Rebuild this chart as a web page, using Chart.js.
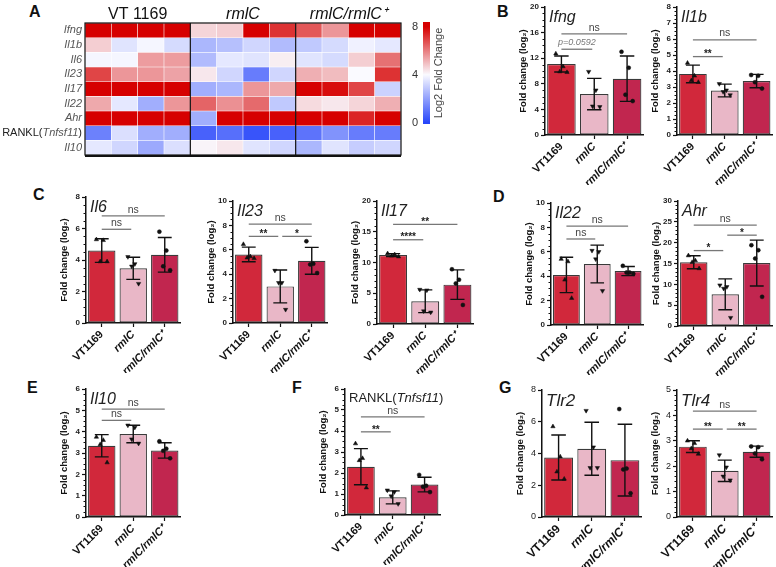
<!DOCTYPE html>
<html>
<head>
<meta charset="utf-8">
<script src="https://cdn.jsdelivr.net/npm/chart.js@4.4.1/dist/chart.umd.min.js"></script>
<style>
  html, body { margin: 0; padding: 0; background: #fff; }
  #fig { position: relative; width: 776px; height: 567px; overflow: hidden; font-family: "Liberation Sans", Arial, sans-serif; }
  #fig canvas { position: absolute; }
  .panel { position: absolute; font-size: 16px; line-height: 16px; font-weight: bold; color: #111; }
</style>
</head>
<body>
<div id="fig">
  <div class="panel" style="left:29px;top:4px">A</div>
  <div class="panel" style="left:497px;top:4px">B</div>
  <div class="panel" style="left:33px;top:187px">C</div>
  <div class="panel" style="left:493px;top:189px">D</div>
  <div class="panel" style="left:27px;top:380px">E</div>
  <div class="panel" style="left:292px;top:380px">F</div>
  <div class="panel" style="left:499px;top:380px">G</div>

  <canvas id="heat"></canvas>
  <canvas id="cbar"></canvas>
  <canvas id="c-ifng"></canvas>
  <canvas id="c-il1b"></canvas>
  <canvas id="c-il6"></canvas>
  <canvas id="c-il23"></canvas>
  <canvas id="c-il17"></canvas>
  <canvas id="c-il22"></canvas>
  <canvas id="c-ahr"></canvas>
  <canvas id="c-il10"></canvas>
  <canvas id="c-rankl"></canvas>
  <canvas id="c-tlr2"></canvas>
  <canvas id="c-tlr4"></canvas>
</div>

<script>
// ---- data ----
const GROUPS = ['VT1169', 'rmlC', 'rmlC/rmlC⁺'];
const HEAT_GROUPS = ['VT 1169', 'rmlC', 'rmlC/rmlC⁺'];
const HEAT_SAMPLES = ['VT-1', 'VT-2', 'VT-3', 'VT-4', 'rmlC-1', 'rmlC-2', 'rmlC-3', 'rmlC-4', 'comp-1', 'comp-2', 'comp-3', 'comp-4'];
const HEAT_ROWS = ['Ifng', 'Il1b', 'Il6', 'Il23', 'Il17', 'Il22', 'Ahr', 'RANKL(Tnfsf11)', 'Il10'];
const COLORBAR_TICKS = [0, 4, 8];

// log2 fold change per sample (heatmap)
const HEAT_IFNG  = [8.5, 8.5, 8.5, 8.5, 4.6, 4.7, 8.5, 7.2, 6.6, 5.6, 8.5, 8.5];
const HEAT_IL1B  = [4.7, 3.5, 3.9, 3.3, 2.5, 2.7, 3.2, 2.6, 2.9, 3.3, 3.8, 3.6];
const HEAT_IL6   = [3.9, 3.9, 5.5, 5.5, 2.6, 3.6, 3.5, 4.2, 3.5, 3.3, 4.7, 6.2];
const HEAT_IL23  = [6.9, 5.6, 5.6, 5.4, 4.3, 3.2, 1.2, 3.2, 5.2, 5.0, 4.0, 7.2];
const HEAT_IL17  = [8.5, 8.5, 8.5, 8.5, 2.3, 2.5, 5.6, 5.3, 8.5, 7.8, 6.9, 3.1];
const HEAT_IL22  = [5.3, 3.6, 2.3, 5.6, 6.4, 5.7, 6.3, 2.9, 4.5, 4.3, 4.6, 5.2];
const HEAT_AHR   = [8.5, 8.5, 8.5, 8.5, 2.3, 8.5, 8.5, 8.5, 8.5, 8.5, 7.4, 8.5];
const HEAT_RANKL = [1.3, 3.4, 2.3, 2.3, 0.6, 0.9, 0.3, 0.6, 1.0, 1.7, 1.2, 1.2];
const HEAT_IL10  = [3.6, 3.2, 2.2, 3.4, 4.1, 4.3, 3.5, 3.2, 2.5, 3.5, 3.0, 3.2];

// bar charts: mean, SD, replicates, significance [from, to, height, label]
const IFNG_MEAN = [11.1, 6.4, 8.8];
const IFNG_SD = [1.25, 2.45, 3.55];
const IFNG_PTS = [[12.7, 10.7, 9.9, 9.8], [9.9, 7.0, 4.5, 4.4], [13.0, 10.5, 6.3, 5.3]];
const IFNG_SIG = [[0, 2, 15.8, 'ns'], [0, 1, 13.4, 'p=0.0592']];

const IL1B_MEAN = [3.82, 2.78, 3.37];
const IL1B_SD = [0.55, 0.4, 0.42];
const IL1B_PTS = [[4.5, 3.7, 3.4, 3.3], [3.2, 2.8, 2.7, 2.5], [3.75, 3.7, 3.3, 2.9]];
const IL1B_SIG = [[0, 2, 5.95, 'ns'], [0, 1, 4.9, '**']];

const IL6_MEAN = [4.6, 3.47, 4.33];
const IL6_SD = [0.75, 0.7, 1.1];
const IL6_PTS = [[5.3, 5.25, 3.9, 3.9], [4.2, 3.75, 3.6, 2.5], [5.8, 4.6, 3.6, 3.35]];
const IL6_SIG = [[0, 2, 6.8, 'ns'], [0, 1, 5.95, 'ns']];

const IL23_MEAN = [5.62, 3.0, 5.1];
const IL23_SD = [0.6, 1.35, 1.1];
const IL23_PTS = [[6.45, 5.45, 5.35, 5.3], [4.3, 3.3, 3.3, 1.1], [6.7, 4.85, 4.8, 4.1]];
const IL23_SIG = [[0, 2, 8.1, 'ns'], [0, 1, 7.1, '**'], [1, 2, 7.1, '*']];

const IL17_MEAN = [11.2, 3.7, 6.4];
const IL17_SD = [0.25, 1.85, 2.4];
const IL17_PTS = [[11.45, 11.3, 11.1, 10.95], [5.6, 5.5, 2.1, 1.9], [8.9, 7.2, 6.6, 3.1]];
const IL17_SIG = [[0, 2, 16.2, '**'], [0, 1, 13.7, '****']];

const IL22_MEAN = [4.1, 5.0, 4.42];
const IL22_SD = [1.45, 1.55, 0.37];
const IL22_PTS = [[5.4, 5.2, 3.7, 2.2], [6.1, 6.0, 5.4, 2.8], [4.85, 4.3, 4.3, 4.2]];
const IL22_SIG = [[0, 2, 8.1, 'ns'], [0, 1, 7.05, 'ns']];

const AHR_MEAN = [15.3, 7.6, 15.1];
const AHR_SD = [1.55, 3.7, 5.5];
const AHR_PTS = [[16.9, 15.7, 15.3, 13.8], [9.8, 9.4, 9.0, 2.0], [19.4, 18.2, 16.2, 7.0]];
const AHR_SIG = [[0, 2, 24.2, 'ns'], [0, 1, 18.1, '*'], [1, 2, 21.8, '*']];

const IL10_MEAN = [3.34, 3.89, 3.12];
const IL10_SD = [0.52, 0.41, 0.36];
const IL10_PTS = [[3.75, 3.6, 3.4, 2.55], [4.3, 4.2, 3.65, 3.45], [3.55, 3.2, 3.1, 2.75]];
const IL10_SIG = [[0, 2, 5.06, 'ns'], [0, 1, 4.53, 'ns']];

const RANKL_MEAN = [2.3, 0.84, 1.45];
const RANKL_SD = [0.86, 0.31, 0.35];
const RANKL_PTS = [[3.4, 2.7, 2.6, 1.3], [1.18, 1.1, 0.9, 0.53], [1.91, 1.39, 1.35, 1.09]];
const RANKL_SIG = [[0, 2, 4.67, 'ns'], [0, 1, 3.96, '**']];

const TLR2_MEAN = [3.75, 4.3, 3.58];
const TLR2_SD = [1.42, 1.67, 2.26];
const TLR2_PTS = [[5.7, 3.8, 2.85, 2.4], [6.7, 4.4, 3.1, 3.1], [6.8, 3.05, 3.0, 1.5]];
const TLR2_SIG = [];

const TLR4_MEAN = [2.77, 1.82, 2.57];
const TLR4_SD = [0.23, 0.42, 0.22];
const TLR4_PTS = [[3.0, 2.9, 2.7, 2.48], [2.44, 1.96, 1.6, 1.45], [2.78, 2.75, 2.5, 2.27]];
const TLR4_SIG = [[0, 2, 4.17, 'ns'], [0, 1, 3.46, '**'], [1, 2, 3.46, '**']];

// ---- style ----
const FONT = '"Liberation Sans", Arial, sans-serif';
Chart.defaults.font.family = FONT;
Chart.defaults.color = '#111';
Chart.defaults.animation = false;
Chart.defaults.plugins.legend.display = false;
Chart.defaults.plugins.tooltip.enabled = false;

const BAR_COLORS = ['#d1283b', '#e9b7c7', '#c1264f'];
const POINT_STYLES = ['triangle', 'triangle', 'circle'];
const POINT_ROT = [0, 180, 0];
const JITTER = [-0.17, 0.05, -0.05, 0.17];

function mix(a, b, t) {
    return a.map((v, i) => Math.round(v + (b[i] - v) * t));
}
function heatColor(v) {
    const lo = [40, 70, 250], mid = [250, 250, 255], hi = [214, 0, 0];
    const t = Math.max(0, Math.min(8, v));
    const c = t < 4 ? mix(lo, mid, t / 4) : mix(mid, hi, (t - 4) / 4);
    return `rgb(${c[0]},${c[1]},${c[2]})`;
}

function place(cv, left, top, w, h) {
    cv.width = w; cv.height = h;
    cv.style.left = left + 'px'; cv.style.top = top + 'px';
    cv.style.width = w + 'px'; cv.style.height = h + 'px';
}

// ---- heatmap ----
const HEAT = [HEAT_IFNG, HEAT_IL1B, HEAT_IL6, HEAT_IL23, HEAT_IL17, HEAT_IL22, HEAT_AHR, HEAT_RANKL, HEAT_IL10];

const heatDecor = {
    id: 'heatDecor',
    afterDraw(chart) {
        const { ctx, chartArea: a, scales: { x, y } } = chart;
        ctx.save();
        // group separators and frame
        ctx.strokeStyle = '#111';
        ctx.lineWidth = 1.2;
        ctx.strokeRect(a.left, a.top, a.right - a.left, a.bottom - a.top);
        [4, 8].forEach(c => {
            const px = (x.getPixelForValue(c - 1) + x.getPixelForValue(c)) / 2;
            ctx.beginPath(); ctx.moveTo(px, a.top); ctx.lineTo(px, a.bottom); ctx.stroke();
        });
        ctx.lineWidth = 2.2;
        ctx.beginPath(); ctx.moveTo(a.left, a.bottom + 1); ctx.lineTo(a.right, a.bottom + 1); ctx.stroke();

        // column group headers
        ctx.fillStyle = '#111';
        ctx.textAlign = 'center';
        ctx.textBaseline = 'alphabetic';
        HEAT_GROUPS.forEach((g, i) => {
            const cx = (x.getPixelForValue(i * 4) + x.getPixelForValue(i * 4 + 3)) / 2;
            ctx.font = (i === 0 ? '' : 'italic ') + '16px ' + FONT;
            ctx.fillText(g, cx, 19);
        });

        // row labels
        ctx.textAlign = 'right';
        ctx.textBaseline = 'middle';
        HEAT_ROWS.forEach((r, i) => {
            const cy = y.getPixelForValue(i + 0.5);
            const rx = a.left - 3;
            if (r.startsWith('RANKL')) {
                ctx.fillStyle = '#222';
                ctx.font = '11px ' + FONT;
                ctx.fillText(')', rx, cy);
                let w = ctx.measureText(')').width;
                ctx.font = 'italic 11px ' + FONT;
                ctx.fillStyle = '#555';
                ctx.fillText('Tnfsf11', rx - w, cy);
                w += ctx.measureText('Tnfsf11').width;
                ctx.font = '11px ' + FONT;
                ctx.fillStyle = '#222';
                ctx.fillText('RANKL(', rx - w, cy);
            } else {
                ctx.fillStyle = '#555';
                ctx.font = 'italic 11px ' + FONT;
                ctx.fillText(r, rx, cy);
            }
        });
        ctx.restore();
    }
};

const heatCv = document.getElementById('heat');
place(heatCv, 0, 0, 405, 162);
new Chart(heatCv, {
    type: 'bar',
    data: {
        labels: HEAT_SAMPLES,
        datasets: HEAT_ROWS.map((r, i) => ({
            label: r,
            data: HEAT_SAMPLES.map(() => 1),
            backgroundColor: ctx => heatColor(HEAT[i][ctx.dataIndex]),
            borderColor: 'rgba(255,255,255,0.55)',
            borderWidth: 0.6,
            borderSkipped: false,
            barPercentage: 1,
            categoryPercentage: 1,
        })),
    },
    options: {
        responsive: false,
        layout: { padding: { left: 85, top: 23, right: 4, bottom: 7 } },
        scales: {
            x: { stacked: true, display: false },
            y: { stacked: true, display: false, min: 0, max: HEAT_ROWS.length, reverse: true },
        },
    },
    plugins: [heatDecor],
});

// ---- colour bar ----
const cbarText = {
    id: 'cbarText',
    afterDraw(chart) {
        const { ctx, chartArea: a, scales: { y } } = chart;
        ctx.save();
        ctx.fillStyle = '#333';
        ctx.font = '11px ' + FONT;
        ctx.textAlign = 'right';
        ctx.textBaseline = 'middle';
        COLORBAR_TICKS.forEach(v => ctx.fillText(String(v), a.left - 5, y.getPixelForValue(v)));
        ctx.translate(a.right + 9, (a.top + a.bottom) / 2);
        ctx.rotate(-Math.PI / 2);
        ctx.fillStyle = '#444';
        ctx.textAlign = 'center';
        ctx.fillText('Log2 Fold Change', 0, 0);
        ctx.restore();
    }
};
const cbarCv = document.getElementById('cbar');
place(cbarCv, 406, 16, 42, 114);
new Chart(cbarCv, {
    type: 'bar',
    data: {
        labels: [''],
        datasets: [{
            data: [[-0.12, 8.4]],
            borderWidth: 0,
            barPercentage: 1,
            categoryPercentage: 1,
            backgroundColor: ctx => {
                const ch = ctx.chart;
                if (!ch.chartArea) return '#fff';
                const y = ch.scales.y;
                const g = ch.ctx.createLinearGradient(0, y.getPixelForValue(0), 0, y.getPixelForValue(8));
                g.addColorStop(0, heatColor(0));
                g.addColorStop(0.5, heatColor(4));
                g.addColorStop(1, heatColor(8));
                return g;
            },
        }],
    },
    options: {
        responsive: false,
        layout: { padding: { left: 17, top: 6, bottom: 6, right: 18 } },
        scales: {
            x: { display: false },
            y: { display: false, min: -0.12, max: 8.4 },
        },
    },
    plugins: [cbarText],
});

// ---- bar charts ----
function barChart(id, box, g) {
    const YW = 27, XH = 50, PT = 8, PR = 3;
    const cv = document.getElementById(id);
    place(cv, box.axisX - YW, box.top - PT, YW + (box.right - box.axisX) + PR, PT + (box.bottom - box.top) + XH);

    const decor = {
        id: 'decor',
        afterDatasetDraw(chart, args) {
            if (args.meta.type !== 'bar') return;
            const { ctx, scales: { x, y } } = chart;
            ctx.save();
            ctx.strokeStyle = '#111';
            ctx.lineWidth = 1.4;
            const cap = (x.getPixelForValue(1) - x.getPixelForValue(0)) * 0.22;
            g.mean.forEach((m, i) => {
                const cx = x.getPixelForValue(i);
                const y1 = y.getPixelForValue(m + g.sd[i]);
                const y0 = y.getPixelForValue(Math.max(0, m - g.sd[i]));
                ctx.beginPath();
                ctx.moveTo(cx, y0); ctx.lineTo(cx, y1);
                ctx.moveTo(cx - cap, y1); ctx.lineTo(cx + cap, y1);
                ctx.moveTo(cx - cap, y0); ctx.lineTo(cx + cap, y0);
                ctx.stroke();
            });
            ctx.restore();
        },
        afterDraw(chart) {
            const { ctx, chartArea: a, scales: { x, y } } = chart;
            ctx.save();
            // minor ticks on the y axis
            if (g.minor) {
                ctx.strokeStyle = '#111';
                ctx.lineWidth = 1;
                const sub = g.step / g.minor;
                for (let v = 0; v <= g.max + 1e-9; v += sub) {
                    if (Math.abs(v / g.step - Math.round(v / g.step)) < 1e-6) continue;
                    const py = Math.round(y.getPixelForValue(v)) + 0.5;
                    ctx.beginPath(); ctx.moveTo(a.left - 2.5, py); ctx.lineTo(a.left, py); ctx.stroke();
                }
            }
            // significance brackets
            g.sig.forEach(([f, t, v, label]) => {
                const x1 = x.getPixelForValue(f) + (f > 0 ? 2 : 0);
                const x2 = x.getPixelForValue(t) - (t < GROUPS.length - 1 ? 2 : 0);
                const py = y.getPixelForValue(v);
                ctx.strokeStyle = '#777';
                ctx.lineWidth = 1.3;
                ctx.beginPath(); ctx.moveTo(x1, py); ctx.lineTo(x2, py); ctx.stroke();
                ctx.textAlign = 'center';
                ctx.textBaseline = 'bottom';
                let dy = -1;
                if (label === 'ns') { ctx.font = '10.5px ' + FONT; ctx.fillStyle = '#444'; }
                else if (label.startsWith('p')) { ctx.font = 'italic 9px ' + FONT; ctx.fillStyle = '#777'; dy = -2; }
                else { ctx.font = 'bold 10px ' + FONT; ctx.fillStyle = '#222'; dy = 3; }
                ctx.fillText(label, (x1 + x2) / 2, py + dy);
            });
            // gene name inside the plot
            ctx.fillStyle = '#222';
            ctx.textAlign = 'left';
            ctx.textBaseline = 'top';
            let tx = a.left + 4;
            g.title.forEach(([txt, it]) => {
                ctx.font = (it ? 'italic ' : '') + g.titleSize + 'px ' + FONT;
                ctx.fillText(txt, tx, a.top + 3);
                tx += ctx.measureText(txt).width;
            });
            ctx.restore();
        }
    };

    const scatter = g.pts.map((arr, i) => ({
        type: 'scatter',
        order: 0,
        data: arr.map((v, k) => ({ x: i + JITTER[k], y: v })),
        pointStyle: POINT_STYLES[i],
        rotation: POINT_ROT[i],
        pointRadius: i === 2 ? 2 : 2.5,
        backgroundColor: '#111',
        borderColor: '#111',
        borderWidth: 0.5,
    }));

    return new Chart(cv, {
        type: 'bar',
        data: {
            datasets: [{
                type: 'bar',
                order: 1,
                grouped: false,
                data: g.mean.map((m, i) => ({ x: i, y: m })),
                backgroundColor: BAR_COLORS,
                borderColor: '#3a3a3a',
                borderWidth: 1.2,
                borderSkipped: false,
                barPercentage: 0.87,
                categoryPercentage: 1,
            }, ...scatter],
        },
        options: {
            responsive: false,
            layout: { padding: { top: PT, right: PR } },
            scales: {
                x: {
                    type: 'linear',
                    offset: false,
                    min: -0.5, max: GROUPS.length - 0.5,
                    afterBuildTicks: s => { s.ticks = GROUPS.map((_, i) => ({ value: i })); },
                    grid: { display: true, offset: false, drawOnChartArea: false, tickLength: 4, color: '#111', tickWidth: 1.2 },
                    border: { display: true, color: '#111', width: 1.5 },
                    ticks: {
                        minRotation: 45, maxRotation: 45, padding: 1, color: '#111',
                        callback: v => GROUPS[v],
                        font: c => ({ size: g.xSize, weight: 'bold', style: c.index > 0 ? 'italic' : 'normal' }),
                    },
                    afterFit: s => { s.height = XH; },
                },
                y: {
                    min: 0, max: g.max,
                    ticks: { stepSize: g.step, padding: 2, color: '#222', font: { size: g.ySize, weight: g.yWeight } },
                    grid: { display: true, drawOnChartArea: false, tickLength: 4, color: '#111', tickWidth: 1.2 },
                    border: { display: true, color: '#111', width: 1.5 },
                    title: { display: true, text: 'Fold change (log₂)', padding: 0, color: '#111', font: { size: 9.5, weight: 'bold' } },
                    afterFit: s => { s.width = YW; },
                },
            },
        },
        plugins: [decor],
    });
}

function gene(name, mean, sd, pts, sig, max, step, minor, extra) {
    return Object.assign({
        title: [[name, true]], mean, sd, pts, sig, max, step, minor,
        titleSize: 16, xSize: 11, ySize: 8, yWeight: 'bold',
    }, extra || {});
}

barChart('c-ifng',  { axisX: 545, top: 7,   bottom: 135, right: 645 }, gene('Ifng', IFNG_MEAN, IFNG_SD, IFNG_PTS, IFNG_SIG, 20, 4, 4));
barChart('c-il1b',  { axisX: 677, top: 7,   bottom: 135, right: 774 }, gene('Il1b', IL1B_MEAN, IL1B_SD, IL1B_PTS, IL1B_SIG, 8, 1, 4));
barChart('c-il6',   { axisX: 86,  top: 197, bottom: 323, right: 182 }, gene('Il6', IL6_MEAN, IL6_SD, IL6_PTS, IL6_SIG, 8, 2, 4));
barChart('c-il23',  { axisX: 233, top: 201, bottom: 323, right: 329 }, gene('Il23', IL23_MEAN, IL23_SD, IL23_PTS, IL23_SIG, 10, 2, 4));
barChart('c-il17',  { axisX: 377, top: 201, bottom: 324, right: 475 }, gene('Il17', IL17_MEAN, IL17_SD, IL17_PTS, IL17_SIG, 20, 5, 5));
barChart('c-il22',  { axisX: 551, top: 203, bottom: 325, right: 645 }, gene('Il22', IL22_MEAN, IL22_SD, IL22_PTS, IL22_SIG, 10, 2, 4));
barChart('c-ahr',   { axisX: 678, top: 201, bottom: 326, right: 774 }, gene('Ahr', AHR_MEAN, AHR_SD, AHR_PTS, AHR_SIG, 30, 5, 5));
barChart('c-il10',  { axisX: 86,  top: 389, bottom: 517, right: 182 }, gene('Il10', IL10_MEAN, IL10_SD, IL10_PTS, IL10_SIG, 6, 1, 4));
barChart('c-rankl', { axisX: 345, top: 389, bottom: 515, right: 442 }, gene('', RANKL_MEAN, RANKL_SD, RANKL_PTS, RANKL_SIG, 6, 1, 4,
    { title: [['RANKL(', false], ['Tnfsf11', true], [')', false]], titleSize: 13 }));
barChart('c-tlr2',  { axisX: 542, top: 390, bottom: 517, right: 643 }, gene('Tlr2', TLR2_MEAN, TLR2_SD, TLR2_PTS, TLR2_SIG, 8, 2, 0,
    { xSize: 12, ySize: 9, yWeight: 'normal', titleSize: 17 }));
barChart('c-tlr4',  { axisX: 677, top: 390, bottom: 517, right: 774 }, gene('Tlr4', TLR4_MEAN, TLR4_SD, TLR4_PTS, TLR4_SIG, 5, 1, 5,
    { xSize: 12, ySize: 9, yWeight: 'normal', titleSize: 17 }));
</script>
</body>
</html>
